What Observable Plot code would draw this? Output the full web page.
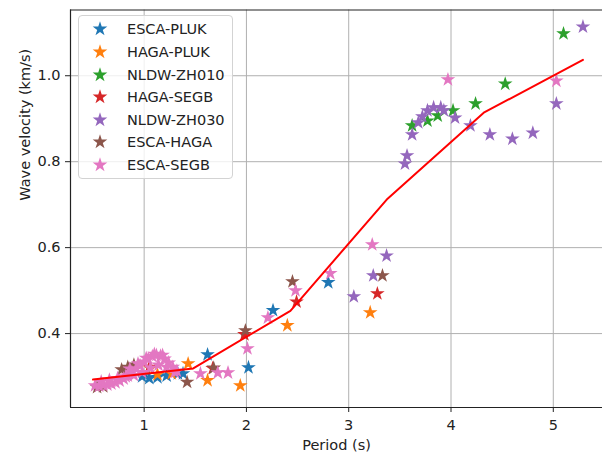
<!DOCTYPE html>
<html><head><meta charset="utf-8">
<script src="https://cdn.jsdelivr.net/npm/d3@7"></script>
<script src="https://cdn.jsdelivr.net/npm/@observablehq/plot@0.6"></script>
<style>
body{margin:0;background:#fff;font-family:"DejaVu Sans",sans-serif;}
#wrap{position:relative;width:602px;height:454px;overflow:hidden;}
#legend{position:absolute;left:78px;top:15px;width:155px;height:164px;box-sizing:border-box;border:1px solid #d3d3d3;border-radius:4px;background:rgba(255,255,255,0.8);}
.row{position:absolute;left:0;height:20px;width:150px;font-size:14.5px;color:#222;}
.row svg{position:absolute;left:11px;top:0px;}
.row span{position:absolute;left:48px;top:1px;line-height:18px;white-space:nowrap;}
</style></head><body>
<div id="wrap"><div id="chart"></div><div id="legend"></div></div>
<script>
// Series names and colours
const seriesNames = ["ESCA-PLUK","HAGA-PLUK","NLDW-ZH010","HAGA-SEGB","NLDW-ZH030","ESCA-HAGA","ESCA-SEGB"];
const seriesColors = ["#1f77b4","#ff7f0e","#2ca02c","#d62728","#9467bd","#8c564b","#e377c2"];

// Period (s) / velocity (km/s) per series
const escaPlukX = [0.98,1.05,1.13,1.22,1.33,1.38,1.62,2.02,2.26,2.80];
const escaPlukY = [0.300,0.296,0.298,0.302,0.307,0.307,0.351,0.321,0.454,0.519];

const hagaPlukX = [1.06,1.13,1.27,1.43,1.62,1.94,2.40,3.21];
const hagaPlukY = [0.319,0.305,0.307,0.330,0.291,0.279,0.419,0.449];

const nldwZh010X = [3.62,3.77,3.87,4.02,4.24,4.53,5.10];
const nldwZh010Y = [0.884,0.895,0.907,0.919,0.935,0.981,1.098];

const hagaSegbX = [1.05,1.67,1.98,2.49,3.28];
const hagaSegbY = [0.322,0.319,0.398,0.474,0.493];

const nldwZh030X = [3.05,3.24,3.37,3.55,3.57,3.62,3.68,3.72,3.77,3.83,3.90,3.93,4.04,4.19,4.38,4.60,4.80,5.03,5.29];
const nldwZh030Y = [0.486,0.535,0.581,0.795,0.814,0.863,0.891,0.905,0.919,0.926,0.926,0.919,0.902,0.884,0.863,0.853,0.867,0.935,1.114];

const escaHagaX = [0.54,0.60,0.78,0.84,0.90,1.42,1.68,1.99,2.45,3.33];
const escaHagaY = [0.275,0.277,0.316,0.322,0.327,0.287,0.320,0.407,0.521,0.535];

const escaSegbX = [0.52,0.56,0.60,0.64,0.68,0.72,0.76,0.80,0.84,0.88,0.92,0.96,1.00,1.04,1.08,1.12,1.16,1.20,1.24,1.28,1.32,
                   0.58,0.66,0.74,0.82,0.90,0.98,1.06,1.14,1.22,1.30,
                   0.86,0.94,1.02,1.10,1.18,
                   1.55,1.72,1.82,2.01,2.21,2.48,2.82,3.23,3.97,5.03];
const escaSegbY = [0.279,0.278,0.280,0.281,0.283,0.286,0.290,0.295,0.302,0.310,0.318,0.326,0.334,0.341,0.347,0.350,0.348,0.341,0.332,0.322,0.313,
                   0.288,0.292,0.296,0.300,0.303,0.310,0.320,0.327,0.322,0.310,
                   0.318,0.330,0.343,0.352,0.350,
                   0.307,0.309,0.309,0.365,0.437,0.500,0.540,0.607,0.991,0.988];

// Reference dispersion curve
const curveX = [0.50,1.48,2.43,3.38,4.32,5.29];
const curveY = [0.293,0.319,0.453,0.714,0.914,1.037];

const xTicks = [1,2,3,4,5];
const yTicks = [0.4,0.6,0.8,1.0];

const seriesXs = [escaPlukX,hagaPlukX,nldwZh010X,hagaSegbX,nldwZh030X,escaHagaX,escaSegbX];
const seriesYs = [escaPlukY,hagaPlukY,nldwZh010Y,hagaSegbY,nldwZh030Y,escaHagaY,escaSegbY];
const rows = [];
seriesNames.forEach((name,i)=>seriesXs[i].forEach((x,j)=>rows.push({series:name,x,y:seriesYs[i][j]})));
const curve = curveX.map((x,i)=>({x,y:curveY[i]}));

const xDom = [0.28,5.53], yDom = [0.228,1.153];
const spine = {stroke:"#222", strokeWidth:1.2};
const starR = 4.6;

const chart = Plot.plot({
  width:602, height:454, marginLeft:70, marginRight:0, marginTop:9.5, marginBottom:47,
  style:{fontFamily:"DejaVu Sans", fontSize:"14.5px", color:"#222", background:"#fff"},
  x:{domain:xDom, range:[70,607]},
  y:{domain:yDom, range:[407,9.5]},
  color:{domain:seriesNames, range:seriesColors},
  marks:[
    Plot.gridX(xTicks,{stroke:"#b0b0b0", strokeOpacity:1, strokeWidth:1}),
    Plot.gridY(yTicks,{stroke:"#b0b0b0", strokeOpacity:1, strokeWidth:1}),
    Plot.dot(rows,{x:"x", y:"y", fill:"series", symbol:"star", r:starR}),
    Plot.line(curve,{x:"x", y:"y", stroke:"#ff0000", strokeWidth:2}),
    Plot.ruleX([xDom[0]], spine),
    Plot.ruleY(yDom, spine),
    Plot.axisX(xTicks,{tickSize:5, tickPadding:7, label:null, fontSize:14.5, stroke:"#222"}),
    Plot.axisY(yTicks,{tickSize:5, tickPadding:5, label:null, fontSize:14.5, stroke:"#222", tickFormat:d3.format(".1f")}),
    Plot.text(["Period (s)"],{frameAnchor:"bottom", lineAnchor:"middle", dy:38, fontSize:14.5, fill:"#222"}),
    Plot.text(["Wave velocity (km/s)"],{frameAnchor:"left", lineAnchor:"middle", dx:-45, dy:-8, rotate:-90, fontSize:14.5, fill:"#222"})
  ]
});
document.getElementById("chart").appendChild(chart);

// Legend
const legend = document.getElementById("legend");
const starPath = d3.symbol(d3.symbolStar, Math.PI*starR*starR)();
seriesNames.forEach((name,i)=>{
  const row = document.createElement("div");
  row.className = "row";
  row.style.top = (3.3 + i*22.6) + "px";
  row.innerHTML = `<svg width="20" height="20" viewBox="-10 -10 20 20"><path d="${starPath}" fill="${seriesColors[i]}"/></svg><span>${name}</span>`;
  legend.appendChild(row);
});
</script>
</body></html>
